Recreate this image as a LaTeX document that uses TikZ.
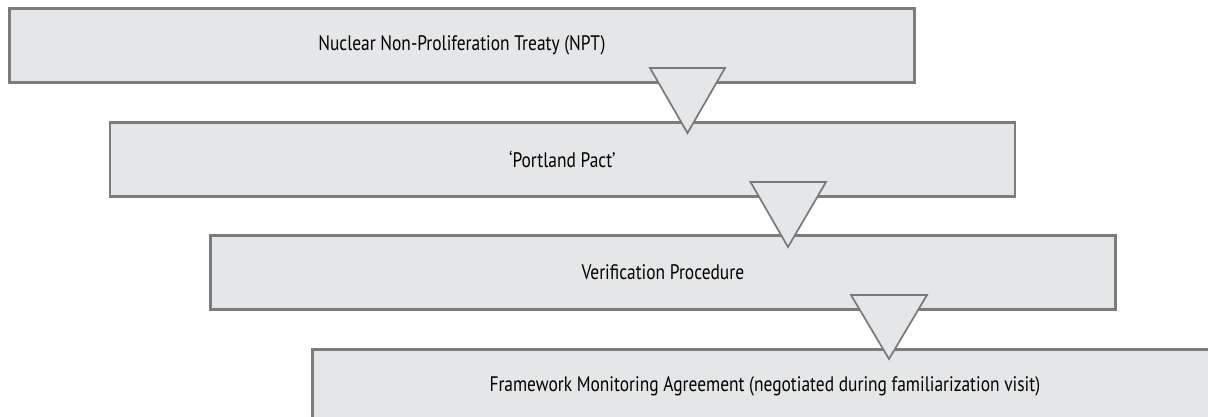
\documentclass[tikz,border=0pt]{standalone}
\usepackage{fontspec}
\setmainfont{PT Sans}[FakeStretch=0.83]
\definecolor{boxfill}{HTML}{E5E6E7}
\definecolor{boxline}{HTML}{7B7C7E}
\definecolor{triline}{HTML}{77787A}
\begin{document}
\begin{tikzpicture}[x=1pt,y=-1pt,
  stagebox/.style={draw=boxline, line width=2.7pt, fill=boxfill,
    minimum width=905pt, minimum height=74pt, anchor=north west,
    inner sep=0pt, font=\fontsize{21}{24}\selectfont},
  flowtri/.style={draw=triline, line width=1.7pt, fill=boxfill, line join=miter}]
\useasboundingbox (0,0) rectangle (1208,417);
\clip (0,0) rectangle (1208,417);
\node[stagebox] (b1) at (8,7) {Nuclear Non-Proliferation Treaty (NPT)};
\node[stagebox] (b2) at (108.5,121) {‘Portland Pact’};
\node[stagebox] (b3) at (209,234) {Verification Procedure};
\node[stagebox] (b4) at (311,348) {Framework Monitoring Agreement (negotiated during familiarization visit)};
\draw[flowtri] (650,68) -- (725,68) -- (687.5,133) -- cycle;
\draw[flowtri] (750.5,182) -- (826,182) -- (788,247) -- cycle;
\draw[flowtri] (851,295) -- (927,295) -- (889,359) -- cycle;
\end{tikzpicture}
\end{document}
